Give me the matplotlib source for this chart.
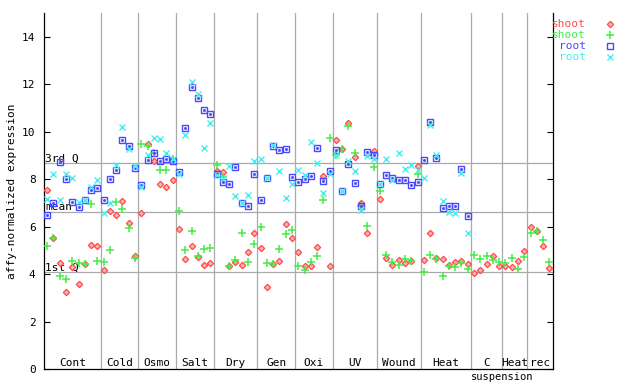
import numpy as np
import matplotlib
matplotlib.use('Agg')
import matplotlib.pyplot as plt
from matplotlib.lines import Line2D

plt.rcParams['font.family'] = 'DejaVu Sans Mono'
plt.rcParams['font.size'] = 8

# sample groups along x (count of samples in each)
groups = ['Cont', 'Cold', 'Osmo', 'Salt', 'Dry', 'Gen', 'Oxi', 'UV', 'Wound', 'Heat', 'C', 'Heat', 'rec']
groupSizes = [9, 6, 6, 6, 7, 6, 6, 7, 7, 8, 5, 4, 4]

# shoot replicates (all 81 samples)
shoot1 = [7.54, 5.51, 4.46, 3.24, 4.28, 3.57, 4.43, 5.21, 5.18,
          4.16, 6.65, 6.48, 7.08, 6.15, 4.77,
          6.57, 9.48, 8.77, 7.79, 7.67, 7.96,
          5.90, 4.63, 5.18, 4.71, 4.37, 4.46,
          8.34, 8.30, 4.33, 4.50, 4.37, 4.92, 5.72,
          5.09, 3.45, 4.42, 4.54, 6.10, 5.51,
          4.92, 4.33, 4.33, 5.13, 8.13, 4.33,
          9.65, 9.27, 10.37, 8.93, 7.00, 5.72, 9.19,
          7.16, 4.67, 4.37, 4.59, 4.46, 4.54, 8.55,
          4.59, 5.72, 4.67, 4.63, 4.37, 4.50, 4.54, 4.42,
          4.04, 4.16, 4.42, 4.78, 4.33,
          4.33, 4.29, 4.54, 4.97,
          5.98, 5.81, 5.18, 4.25]
shoot2 = [5.18, 5.51, 3.91, 3.78, 4.55, 4.46, 4.43, 6.96, 4.54,
          4.50, 5.01, 7.03, 6.74, 5.94, 4.67,
          9.48, 9.38, 9.12, 8.38, 8.38, 8.86,
          6.66, 5.01, 5.81, 4.75, 5.05, 5.09,
          8.59, 8.08, 4.33, 4.59, 5.72, 4.50, 5.26,
          5.98, 4.46, 4.42, 5.05, 5.68, 5.85,
          4.33, 4.16, 4.50, 4.75, 7.12, 9.73,
          9.00, 9.27, 10.22, 9.10, 6.86, 6.02, 8.51,
          7.50, 4.80, 4.50, 4.37, 4.65, 4.54, 8.22,
          4.08, 4.80, 4.63, 3.91, 4.33, 4.29, 4.46, 4.21,
          4.80, 4.63, 4.75, 4.59, 4.50,
          4.46, 4.67, 4.21, 4.71,
          5.72, 5.80, 5.43, 4.50]
# root replicates (plant samples only, no suspension culture)
root1 = [6.50, 7.00, 8.72, 8.02, 7.04, 6.82, 7.14, 7.54, 7.64,
         7.13, 8.00, 8.38, 9.65, 9.40, 8.48,
         7.74, 8.80, 9.10, 8.76, 8.85, 8.76,
         8.30, 10.16, 11.89, 11.42, 10.92, 10.75,
         8.20, 7.88, 7.79, 8.51, 6.99, 6.86, 8.22,
         7.12, 8.05, 9.40, 9.23, 9.27, 8.09,
         7.88, 8.00, 8.13, 9.31, 7.92, 8.34,
         9.23, 7.52, 8.64, 7.84, 6.86, 9.14, 9.02,
         7.78, 8.17, 8.05, 7.96, 7.96, 7.75, 7.88,
         8.80, 10.41, 8.89, 6.78, 6.86, 6.86, 8.43, 6.44]
root2 = [7.17, 8.23, 7.12, 8.23, 8.06, 7.05, 7.14, 7.68, 7.96,
         6.57, 6.99, 8.60, 10.20, 9.27, 8.56,
         7.65, 9.02, 9.73, 9.69, 9.10, 8.85,
         8.22, 9.86, 12.11, 11.59, 9.31, 10.37,
         8.16, 8.05, 8.56, 7.29, 6.99, 7.33, 8.77,
         8.85, 8.05, 9.45, 8.34, 7.20, 7.79,
         8.38, 8.17, 9.56, 8.68, 7.41, 8.23,
         9.02, 7.52, 8.76, 8.34, 6.70, 8.97, 8.85,
         7.78, 8.85, 7.96, 9.10, 8.43, 8.59, 8.38,
         8.05, 10.27, 9.02, 7.08, 6.61, 6.57, 8.26, 5.72]

quartiles = [4.08, 6.62, 8.68]
quartileLabels = ['1st Q', 'mean', '3rd Q']

nSamples = sum(groupSizes)
x = np.arange(nSamples)
pad = [np.nan] * (nSamples - len(root1))
root1 = np.array(root1 + pad)
root2 = np.array(root2 + pad)

red = '#ff4a4a'
green = '#44ee44'
blue = '#4848ff'
cyan = '#44eeee'
grey = '#aaaaaa'

fig = plt.figure(figsize=(6.4, 3.84), dpi=100)
ax = fig.add_axes([44 / 640, 15 / 384, 508.5 / 640, 356 / 384])
ax.set_xlim(-0.5, nSamples - 0.5)
ax.set_ylim(0, 15)

bounds = np.cumsum(groupSizes)
for b in bounds[:-1]:
  ax.axvline(b - 0.5, color=grey, lw=0.9, zorder=1)
for q, lab in zip(quartiles, quartileLabels):
  ax.axhline(q, color=grey, lw=0.9, zorder=1)
  ax.text(-0.35, q + 0.06, lab, ha='left', va='baseline', zorder=2)

starts = np.concatenate([[0], bounds[:-1]])
for g, s, n in zip(groups, starts, groupSizes):
  ax.text(s + n / 2 - 0.5, 0.12, g, ha='center', va='baseline')
ax.text(72.4, -0.33, 'suspension', ha='center', va='center', clip_on=False,
        fontsize=7.5)

ax.plot(x, shoot1, 'D', ms=3.2, mfc='#ffb0b0', mec=red, mew=0.9, zorder=3)
ax.plot(x, shoot2, '+', ms=6, color=green, mew=1.1, zorder=3)
ax.plot(x, root1, 's', ms=4.6, mfc='none', mec=blue, mew=1.0, zorder=3)
ax.plot(x, root1, 's', ms=1.0, color=blue, zorder=3)
ax.plot(x, root2, 'x', ms=4.6, color=cyan, mew=1.0, zorder=3)

ax.set_yticks(range(0, 16, 2))
ax.set_xticks([])
ax.tick_params(axis='y', direction='in', length=4.5, width=0.8, right=True, pad=6)
ax.spines['top'].set_visible(False)
for side in ['left', 'right', 'bottom']:
  ax.spines[side].set_linewidth(0.9)

fig.text(12 / 640, 1 - 191 / 384, 'affy-normalized expression', rotation=90,
         ha='center', va='center')

# legend: name then marker, right of the plot
legend = [('shoot', red, dict(marker='D', ms=3.2, mfc='#ffb0b0', mec=red, mew=0.9)),
          ('shoot', green, dict(marker='+', ms=6, color=green, mew=1.1)),
          ('root', blue, dict(marker='s', ms=4.6, mfc='none', mec=blue, mew=1.0)),
          ('root', cyan, dict(marker='x', ms=4.6, color=cyan, mew=1.0))]
for k, (name, col, style) in enumerate(legend):
  yy = 1 - (24 + 11 * k) / 384
  fig.text(586 / 640, yy, name, color=col, ha='right', va='center')
  fig.add_artist(Line2D([609.5 / 640], [yy], linestyle='none', **style))

fig.savefig('out.png', dpi=100)
